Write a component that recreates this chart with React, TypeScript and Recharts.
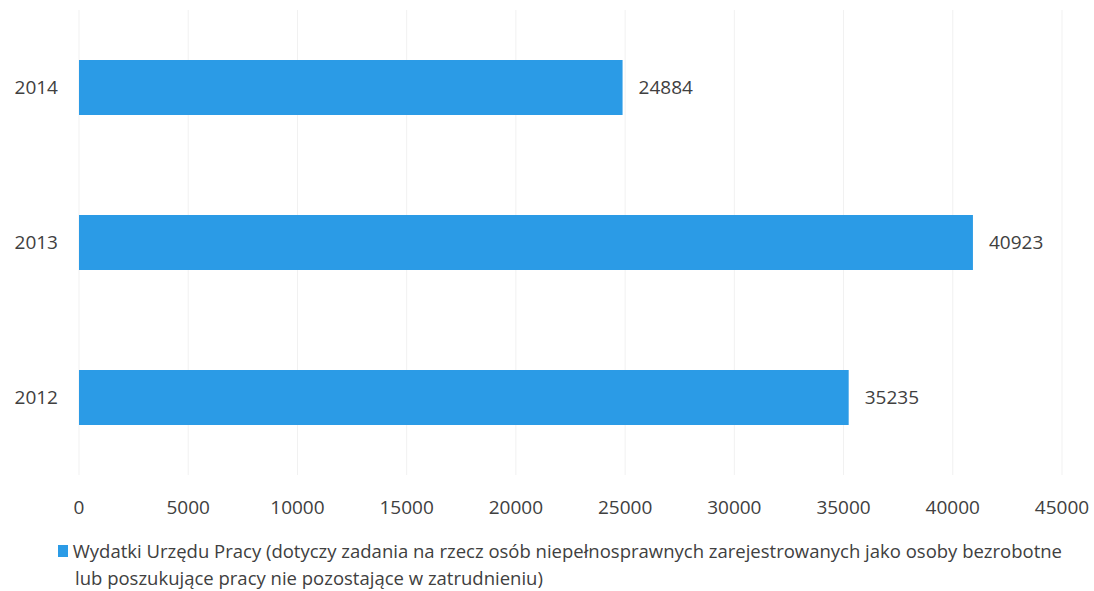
import { BarChart, Bar, XAxis, YAxis, CartesianGrid, LabelList, Legend } from 'recharts'

const YEARS = ['2014', '2013', '2012']
const VALUES = [24884, 40923, 35235]
const X_TICKS = [0, 5000, 10000, 15000, 20000, 25000, 30000, 35000, 40000, 45000]
const SERIES_NAME = 'Wydatki Urzędu Pracy (dotyczy zadania na rzecz osób niepełnosprawnych zarejestrowanych jako osoby bezrobotne'
const SERIES_NAME_2 = 'lub poszukujące pracy nie pozostające w zatrudnieniu)'

const BLUE = '#2b9be6'
const TEXT = '#404040'
const FONT = '"Open Sans", "Noto Sans", sans-serif'

const data = YEARS.map((y, i) => ({ year: y, value: VALUES[i] }))

function LegendBox() {
  return (
    <div style={{ fontFamily: FONT, fontSize: 18.5, color: TEXT, lineHeight: '27px', paddingLeft: 58, paddingTop: 10, textAlign: 'left', whiteSpace: 'nowrap' }}>
      <div style={{ display: 'flex', alignItems: 'center' }}>
        <span style={{ width: 12, height: 12, background: BLUE, display: 'inline-block', marginRight: 5 }} />
        <span>{SERIES_NAME}</span>
      </div>
      <div style={{ paddingLeft: 17 }}>{SERIES_NAME_2}</div>
    </div>
  )
}

export default function App() {
  return (
    <div style={{ position: 'absolute', left: 0, top: 0, background: '#fff' }}>
      <BarChart
        width={1094}
        height={591}
        data={data}
        layout="vertical"
        margin={{ top: 10, right: 32, left: 0, bottom: 0 }}
      >
        <CartesianGrid horizontal={false} stroke="#f1f1f1" />
        <XAxis
          type="number"
          domain={[0, 45000]}
          ticks={X_TICKS}
          axisLine={false}
          tickLine={false}
          tickSize={0}
          tickMargin={26}
          height={52}
          tick={{ fill: TEXT, fontSize: 19, fontFamily: FONT }}
        />
        <YAxis
          type="category"
          dataKey="year"
          width={79}
          axisLine={false}
          tickLine={false}
          tickSize={0}
          tickMargin={21}
          tick={{ fill: TEXT, fontSize: 19, fontFamily: FONT }}
        />
        <Legend verticalAlign="bottom" height={64} content={() => <LegendBox />} />
        <Bar dataKey="value" fill={BLUE} barSize={55} isAnimationActive={false}>
          <LabelList dataKey="value" position="right" offset={16} fill={TEXT} fontSize={19} fontFamily={FONT} />
        </Bar>
      </BarChart>
    </div>
  )
}
